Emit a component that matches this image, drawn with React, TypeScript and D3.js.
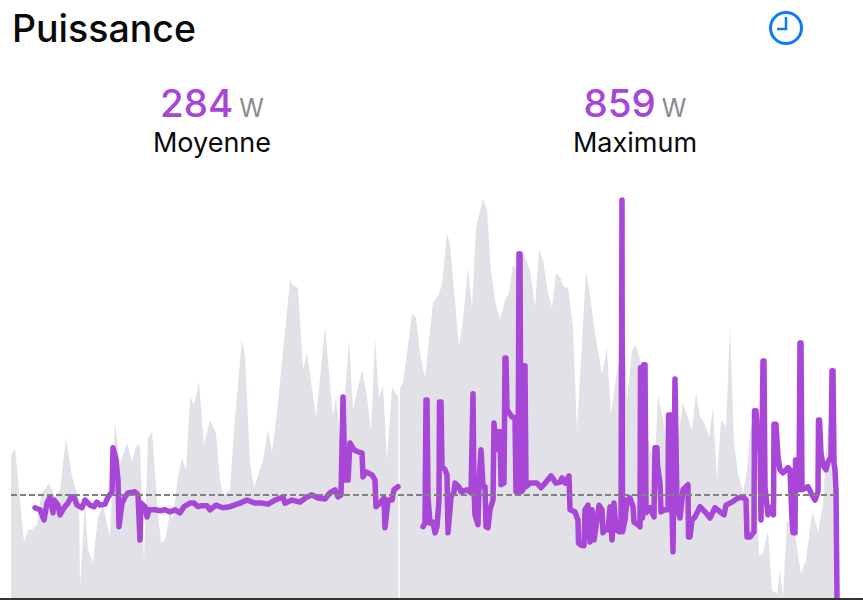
import React, { useEffect, useRef } from 'react';
import * as d3 from 'd3';

const title = 'Puissance';
const unit = 'W';
const summaryValues = ['284', '859'];
const summaryLabels = ['Moyenne', 'Maximum'];
const averagePower = 284;

// [position in the workout, elevation]
const elevation: [number, number][] = [
	[11, 143], [15, 150], [24, 56], [28, 68], [33, 69], [37, 73], [41, 103], [49, 115], [55, 101], [60, 108],
	[66, 160], [72, 121], [79, 98], [80, 11], [85, 95], [88, 48], [93, 35], [98, 81], [103, 93], [110, 61],
	[115, 176], [120, 135], [127, 155], [132, 136], [136, 152], [140, 153], [144, 35], [148, 160], [152, 166], [158, 85],
	[161, 55], [165, 58], [170, 85], [173, 80], [178, 121], [182, 140], [186, 128], [190, 201], [194, 193], [199, 216],
	[204, 153], [210, 178], [216, 165], [220, 118], [223, 103], [230, 108], [234, 168], [242, 258], [245, 241], [250, 136],
	[254, 110], [263, 138], [268, 168], [272, 146], [278, 195], [290, 318], [293, 313], [298, 310], [303, 228], [307, 245],
	[316, 180], [325, 271], [333, 181], [336, 203], [341, 150], [349, 258], [353, 188], [362, 228], [367, 201], [371, 166],
	[375, 261], [379, 200], [383, 213], [387, 138], [392, 211], [398, 201], [400, 210], [403, 215], [412, 284], [416, 281],
	[420, 245], [425, 220], [433, 296], [438, 302], [442, 313], [447, 365], [450, 353], [459, 252], [463, 278], [468, 330],
	[472, 291], [476, 370], [483, 399], [487, 388], [491, 328], [495, 298], [500, 278], [505, 298], [509, 305], [513, 333],
	[517, 328], [523, 345], [530, 328], [535, 291], [539, 349], [543, 338], [548, 305], [552, 290], [556, 325], [560, 321],
	[564, 311], [568, 310], [573, 271], [577, 168], [586, 328], [590, 303], [595, 265], [602, 223], [607, 250], [611, 183],
	[616, 221], [620, 240], [624, 285], [627, 198], [632, 248], [636, 253], [640, 238], [646, 175], [650, 148], [655, 138],
	[658, 203], [664, 173], [668, 138], [670, 193], [675, 138], [683, 195], [692, 168], [696, 206], [700, 181], [704, 176],
	[709, 161], [713, 190], [717, 118], [721, 178], [726, 171], [730, 273], [734, 155], [738, 125], [743, 105], [747, 128],
	[751, 175], [755, 150], [759, 42], [763, 45], [768, 68], [772, 8], [777, 4], [780, 28], [783, 0], [787, 78],
	[795, 65], [801, 24], [806, 38], [811, 78], [813, 86], [818, 65], [823, 95], [828, 175], [835, 168], [836, 0]
];

// [position in the workout, watts], first part before the pause
const powerBeforePause: [number, number][] = [
	[35, 259], [40, 255], [44, 235], [47, 268], [50, 280], [53, 249], [54, 274], [58, 264], [60, 245], [64, 259],
	[68, 268], [71, 280], [74, 280], [77, 264], [82, 259], [85, 274], [90, 264], [94, 261], [97, 270], [100, 264],
	[105, 266], [108, 280], [112, 290], [113, 376], [116, 352], [118, 313], [119, 222], [122, 268], [125, 280], [128, 288],
	[135, 290], [138, 284], [140, 196], [141, 268], [145, 261], [147, 241], [149, 255], [155, 255], [160, 253], [165, 255],
	[170, 251], [175, 255], [180, 249], [184, 261], [190, 268], [194, 268], [198, 261], [202, 263], [207, 263], [210, 255],
	[216, 264], [223, 259], [230, 261], [240, 268], [247, 274], [255, 268], [262, 268], [268, 266], [275, 274], [283, 280],
	[285, 268], [292, 274], [300, 270], [307, 280], [312, 284], [318, 278], [325, 276], [330, 288], [335, 294], [338, 280],
	[341, 284], [343, 475], [345, 313], [348, 313], [350, 385], [354, 372], [358, 368], [362, 366], [363, 319], [366, 329],
	[372, 323], [375, 313], [376, 261], [380, 268], [384, 278], [385, 220], [388, 274], [392, 274], [394, 294], [398, 300]
];

const powerAfterPause: [number, number][] = [
	[423, 222], [425, 229], [426, 469], [427, 469], [428, 280], [430, 229], [433, 231], [435, 210], [437, 222], [439, 274],
	[439.5, 465], [441, 465], [442, 339], [445, 333], [447, 323], [448, 210], [451, 280], [454, 290], [455, 307], [459, 300],
	[461, 290], [467, 294], [471, 288], [473, 481], [474, 294], [475, 245], [478, 226], [479, 307], [481, 372], [483, 300],
	[485, 300], [486, 222], [488, 220], [490, 255], [493, 274], [494, 424], [496, 372], [497, 407], [500, 407], [501, 304],
	[504, 307], [505, 551], [506, 551], [507, 450], [512, 436], [515, 434], [516, 290], [518, 290], [519, 754], [520, 754],
	[521, 290], [523, 294], [524, 536], [525, 536], [526, 300], [530, 307], [537, 307], [541, 298], [546, 309], [551, 321],
	[556, 307], [560, 309], [562, 317], [565, 307], [569, 321], [570, 255], [575, 251], [578, 235], [578.5, 190], [581, 186],
	[584, 185], [585, 255], [588, 264], [590, 192], [592, 255], [594, 196], [597, 235], [599, 264], [602, 255], [603, 210],
	[605, 216], [608, 216], [610, 261], [612, 196], [614, 268], [616, 216], [619, 212], [621, 235], [622, 859], [622.5, 212],
	[625, 235], [627, 274], [630, 278], [633, 261], [634, 231], [638, 226], [640, 222], [640.5, 532], [642, 532], [642.5, 239],
	[643.5, 538], [645, 538], [646, 249], [650, 259], [654, 241], [655, 376], [657, 376], [657.5, 342], [660, 307], [661, 251],
	[665, 255], [668, 255], [668.5, 440], [671, 440], [672, 255], [673, 173], [675, 510], [677, 261], [680, 239], [683, 294],
	[688, 304], [688.5, 202], [690, 202], [692, 235], [695, 241], [700, 261], [706, 249], [710, 239], [715, 259], [720, 251],
	[724, 245], [726, 264], [732, 270], [738, 278], [743, 280], [746, 274], [747, 202], [750, 202], [754, 212], [754.5, 448],
	[756, 448], [758, 378], [760, 372], [761, 235], [763, 545], [764, 545], [765, 300], [768, 245], [772, 261], [773.5, 245],
	[774, 422], [776, 422], [778, 358], [780, 333], [783, 327], [788, 337], [790, 333], [792, 235], [793, 210], [795, 210],
	[795.5, 352], [799, 294], [800, 580], [801, 580], [802, 294], [808, 300], [812, 284], [815, 274], [818, 290], [818.5, 430],
	[819.5, 430], [821, 366], [823, 342], [826, 333], [828, 348], [831, 358], [832, 526], [833, 526], [834, 346], [835, 333],
	[836, 294], [837, 83]
];

const PowerChart: React.FC = () => {
	const svgRef = useRef<SVGSVGElement>(null);

	useEffect(() => {
		if (svgRef.current == null) return;
		const width = 863;
		const height = 600;
		const baseline = 598;
		const purple = '#a846d8';

		const xScale = d3.scaleLinear().domain([0, width]).range([0, width]);
		const powerScale = d3.scaleLinear().domain([83, 859]).range([baseline, 200]);
		const elevationScale = d3.scaleLinear().domain([0, 400]).range([baseline, baseline - 400]);

		const svg = d3.select(svgRef.current);
		svg.selectAll('*').remove();

		const font = 'Inter, Roboto, sans-serif';

		svg.append('text')
			.attr('x', 12)
			.attr('y', 42)
			.attr('font-family', font)
			.attr('font-size', 37.5)
			.attr('font-weight', 500)
			.attr('fill', '#0a0a0a')
			.text(title);

		// clock button
		const clock = svg.append('g').attr('fill', 'none').attr('stroke', '#0a7aff');
		clock.append('circle').attr('cx', 786).attr('cy', 28).attr('r', 15.5).attr('stroke-width', 3);
		clock.append('path')
			.attr('d', 'M786,17V29H777')
			.attr('stroke-width', 2.5);

		const summaryCenters = [212, 635];
		summaryValues.forEach((value, i) => {
			const group = svg.append('text')
				.attr('x', summaryCenters[i])
				.attr('y', 117)
				.attr('text-anchor', 'middle')
				.attr('font-family', font);
			group.append('tspan')
				.attr('font-size', 38.5)
				.attr('font-weight', 500)
				.attr('fill', purple)
				.text(value);
			group.append('tspan')
				.attr('dx', 6)
				.attr('font-size', 25)
				.attr('fill', '#8a8a8e')
				.text(unit);

			svg.append('text')
				.attr('x', summaryCenters[i])
				.attr('y', 152)
				.attr('text-anchor', 'middle')
				.attr('font-family', font)
				.attr('font-size', 27)
				.attr('fill', '#0a0a0a')
				.text(summaryLabels[i]);
		});

		const area = d3.area<[number, number]>()
			.x(d => xScale(d[0]))
			.y0(baseline)
			.y1(d => elevationScale(d[1]));

		svg.append('path')
			.attr('d', area(elevation))
			.attr('fill', '#e2e1e8');

		// pause marker, a thin gap in the elevation
		svg.append('line')
			.attr('x1', xScale(399))
			.attr('x2', xScale(399))
			.attr('y1', 290)
			.attr('y2', baseline)
			.attr('stroke', '#fff')
			.attr('stroke-width', 1.5);

		const line = d3.line<[number, number]>()
			.x(d => xScale(d[0]))
			.y(d => powerScale(d[1]));

		[powerBeforePause, powerAfterPause].forEach(part => {
			svg.append('path')
				.attr('d', line(part))
				.attr('fill', 'none')
				.attr('stroke', purple)
				.attr('stroke-width', 5.5)
				.attr('stroke-linejoin', 'round')
				.attr('stroke-linecap', 'round');
		});

		// average sits on top of the power line
		svg.append('line')
			.attr('x1', xScale(11))
			.attr('x2', xScale(837))
			.attr('y1', powerScale(averagePower))
			.attr('y2', powerScale(averagePower))
			.attr('stroke', '#808080')
			.attr('stroke-width', 2)
			.attr('stroke-dasharray', '6 3');

		svg.append('rect')
			.attr('x', 0)
			.attr('y', baseline)
			.attr('width', width)
			.attr('height', height - baseline)
			.attr('fill', '#333');
	}, []);

	return (
		<svg
			ref={svgRef}
			width={863}
			height={600}
			style={{ position: 'absolute', left: 0, top: 0, background: '#fff' }}
		/>
	);
};

export default function App() {
	return <PowerChart />;
}
